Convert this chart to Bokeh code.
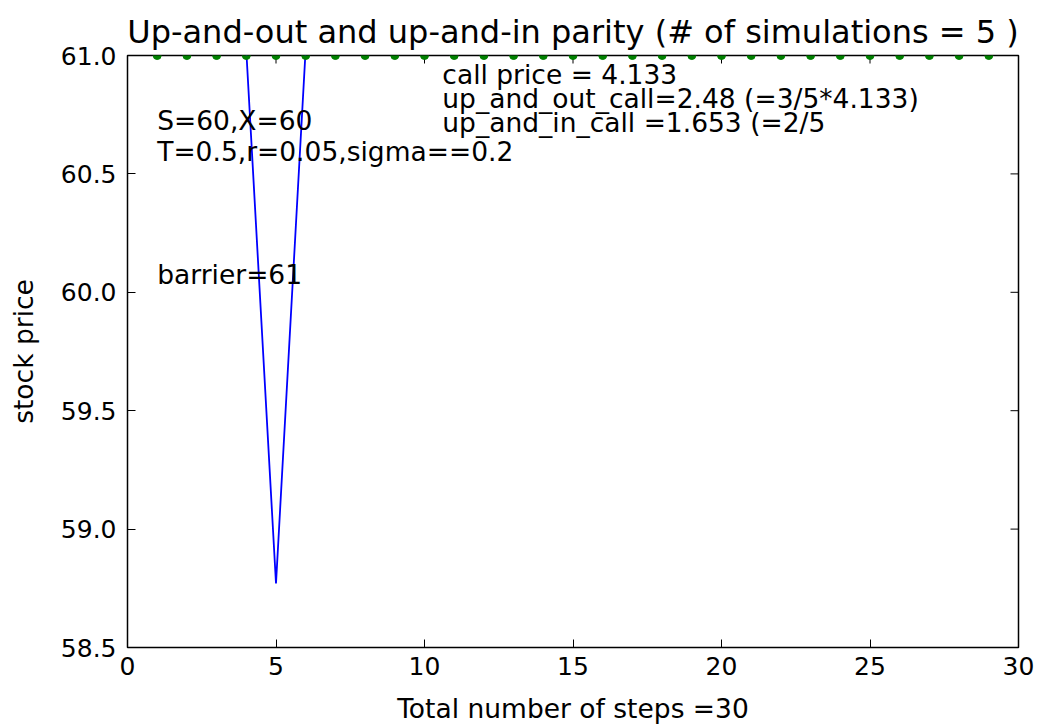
from bokeh.plotting import figure
from bokeh.models import Range1d, FixedTicker, Label, PrintfTickFormatter
from bokeh.embed import file_html
from bokeh.resources import INLINE

# ---- data ----
steps = [3, 4, 5, 6, 7]
path_price = [61.6, 61.02, 58.77, 61.03, 61.7]
barrier_steps = list(range(1, 30))
barrier_level = [61.0] * len(barrier_steps)
x_ticks = [0, 5, 10, 15, 20, 25, 30]
y_ticks = [58.5, 59.0, 59.5, 60.0, 60.5, 61.0]

title_text = "Up-and-out and up-and-in parity (# of simulations = 5 )"
notes_left = ["S=60,X=60", "T=0.5,r=0.05,sigma==0.2", "barrier=61"]
notes_left_y = [60.726, 60.596, 60.076]
notes_right = ["call price = 4.133",
               "up_and_out_call=2.48 (=3/5*4.133)",
               "up_and_in_call =1.653 (=2/5"]
notes_right_y = [60.92, 60.818, 60.717]

FONT = "DejaVu Sans"
TICK_FS = "25px"
TEXT_FS = "26.5px"

x0, x1 = x_ticks[0], x_ticks[-1]
y0, y1 = y_ticks[0], y_ticks[-1]

p = figure(width=1037, height=726,
           x_range=Range1d(x0, x1), y_range=Range1d(y0, y1),
           output_backend="svg", toolbar_location=None,
           min_border_left=127, min_border_right=19,
           min_border_top=55, min_border_bottom=78)

p.grid.visible = False
p.outline_line_color = "black"
p.outline_line_width = 1.5
p.outline_line_alpha = 1.0
p.background_fill_color = "white"
p.border_fill_color = "white"

p.title.text = title_text
p.title.text_font = FONT
p.title.text_font_size = "32px"
p.title.text_font_style = "normal"
p.title.align = "center"
p.title.text_color = "black"

for ax in (p.xaxis[0], p.yaxis[0]):
    ax.axis_line_color = None
    ax.major_tick_in = 8
    ax.major_tick_out = 0
    ax.major_tick_line_color = "black"
    ax.major_tick_line_width = 1
    ax.minor_tick_line_color = None
    ax.major_label_text_font = FONT
    ax.major_label_text_font_size = TICK_FS
    ax.major_label_text_color = "black"
    ax.axis_label_text_font = FONT
    ax.axis_label_text_font_size = TEXT_FS
    ax.axis_label_text_font_style = "normal"
    ax.axis_label_text_color = "black"

p.xaxis.ticker = FixedTicker(ticks=x_ticks)
p.yaxis.ticker = FixedTicker(ticks=y_ticks)
p.yaxis.formatter = PrintfTickFormatter(format="%.1f")
p.xaxis.axis_label = "Total number of steps =30"
p.yaxis.axis_label = "stock price"
p.xaxis.major_label_standoff = 9
p.yaxis.major_label_standoff = 11
p.xaxis.axis_label_standoff = 15
p.yaxis.axis_label_standoff = 19

# inward ticks on the top and right sides of the frame
p.ray(x=x_ticks, y=[y1] * len(x_ticks), length=8, length_units="screen",
      angle=-90, angle_units="deg", line_color="black", line_width=1)
p.ray(x=[x1] * len(y_ticks), y=y_ticks, length=8, length_units="screen",
      angle=180, angle_units="deg", line_color="black", line_width=1)

p.line(steps, path_price, line_color="#0000ff", line_width=1.8)
p.scatter(barrier_steps, barrier_level, size=8, fill_color="#008000", line_color="#008000")

for t, y in zip(notes_left, notes_left_y):
    p.add_layout(Label(x=1, y=y, text=t, text_font=FONT, text_font_size=TEXT_FS,
                       text_baseline="alphabetic", text_color="black"))
for t, y in zip(notes_right, notes_right_y):
    p.add_layout(Label(x=10.6, y=y, text=t, text_font=FONT, text_font_size=TEXT_FS,
                       text_baseline="alphabetic", text_color="black"))

open("out.html", "w").write(file_html(p, INLINE))
